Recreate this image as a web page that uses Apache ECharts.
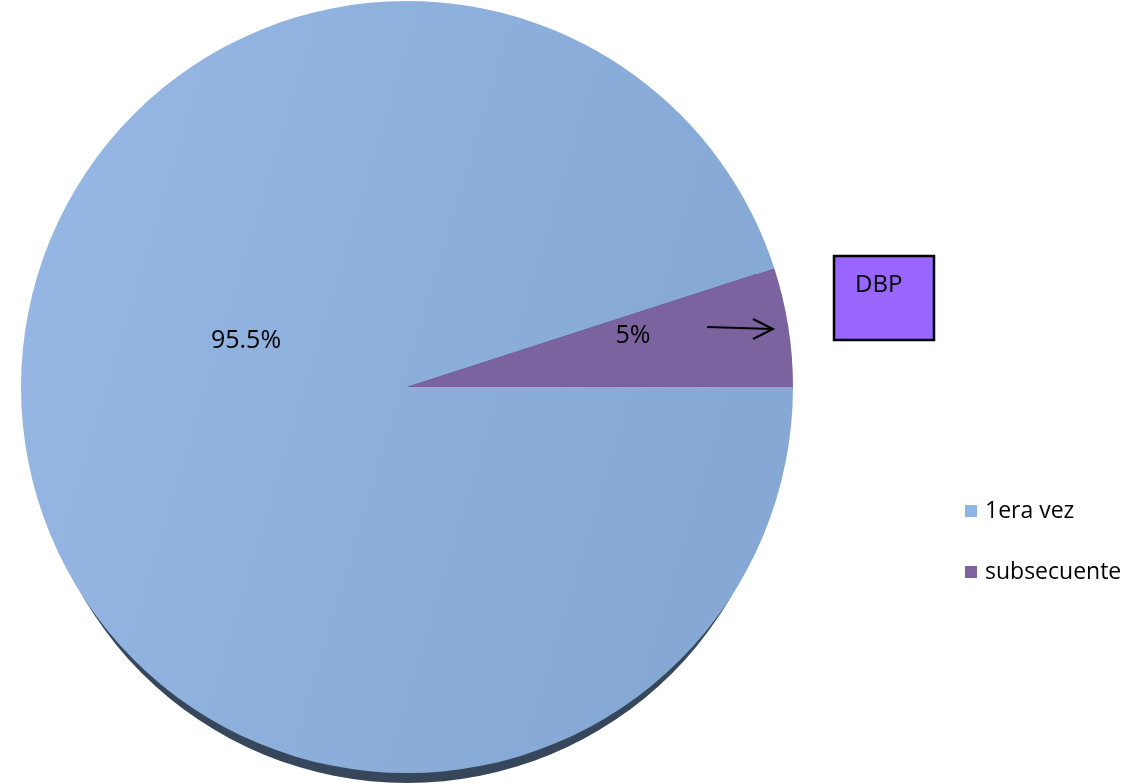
<!DOCTYPE html>
<html>
<head>
<meta charset="utf-8">
<title>1era vez / subsecuente</title>
<script src="https://cdn.jsdelivr.net/npm/echarts@6/dist/echarts.min.js"></script>
<style>
  html, body { margin: 0; padding: 0; background: #ffffff; }
  #chart { width: 1134px; height: 783px; }
</style>
</head>
<body>
<div id="chart"></div>
<script>
// Visit categories and their shares (%)
const categories = ['1era vez', 'subsecuente'];
const shares = [95.5, 5];
const calloutText = 'DBP';

const FONT = '"Open Sans", "Noto Sans", sans-serif';
const CX = 407, CY = 387, R = 386;

const sliceColors = [
  new echarts.graphic.LinearGradient(0, 0, 1, 0.3, [
    { offset: 0, color: '#97B8E4' },
    { offset: 1, color: '#86A8D5' }
  ]),
  '#7B63A0'
];
const legendColors = ['#8EB4E3', '#8064A2'];

// label anchor points per slice
const labelSpots = [
  { x: 246, y: 341 },
  { x: 633, y: 336 }
];

const chart = echarts.init(document.getElementById('chart'), null, { renderer: 'canvas' });

chart.setOption({
  animation: false,
  backgroundColor: '#ffffff',
  legend: {
    orient: 'vertical',
    left: 965,
    top: 498,
    padding: 0,
    icon: 'rect',
    itemWidth: 12,
    itemHeight: 12,
    itemGap: 35,
    selectedMode: false,
    data: categories.map((name, i) => ({
      name,
      itemStyle: { color: legendColors[i] }
    })),
    textStyle: {
      fontFamily: FONT,
      fontSize: 23,
      lineHeight: 26,
      color: '#000000',
      padding: [0, 0, 0, 3]
    }
  },
  graphic: [
    // dark rim underneath the pie
    {
      type: 'circle',
      z: 0,
      shape: { cx: CX, cy: CY + 21, r: 375 },
      style: { fill: '#37475B' },
      silent: true
    },
    // callout arrow
    {
      type: 'polyline',
      z: 10,
      shape: { points: [[707, 327], [773, 329]] },
      style: { stroke: '#000000', lineWidth: 2, fill: null }
    },
    {
      type: 'polyline',
      z: 10,
      shape: { points: [[753, 319], [773, 329], [753, 339]] },
      style: { stroke: '#000000', lineWidth: 2, fill: null }
    },
    // callout box
    {
      type: 'rect',
      z: 10,
      shape: { x: 834, y: 256, width: 100, height: 84 },
      style: { fill: '#9966FF', stroke: '#000000', lineWidth: 2.5 }
    },
    {
      type: 'text',
      z: 11,
      x: 855,
      y: 285,
      style: {
        text: calloutText,
        fontFamily: FONT,
        fontSize: 24,
        verticalAlign: 'middle',
        fill: '#000000'
      }
    }
  ],
  series: [
    {
      type: 'pie',
      z: 2,
      center: [CX, CY],
      radius: [0, R],
      startAngle: 0,
      clockwise: true,
      avoidLabelOverlap: false,
      emphasis: { disabled: true },
      itemStyle: { borderWidth: 0 },
      label: {
        show: true,
        position: 'inside',
        formatter: p => p.value + '%',
        fontFamily: FONT,
        fontSize: 25,
        color: '#000000'
      },
      labelLine: { show: false },
      labelLayout: p => ({
        x: labelSpots[p.dataIndex].x,
        y: labelSpots[p.dataIndex].y,
        align: 'center',
        verticalAlign: 'middle'
      }),
      data: categories.map((name, i) => ({
        name,
        value: shares[i],
        itemStyle: { color: sliceColors[i] }
      }))
    }
  ]
});
</script>
</body>
</html>
